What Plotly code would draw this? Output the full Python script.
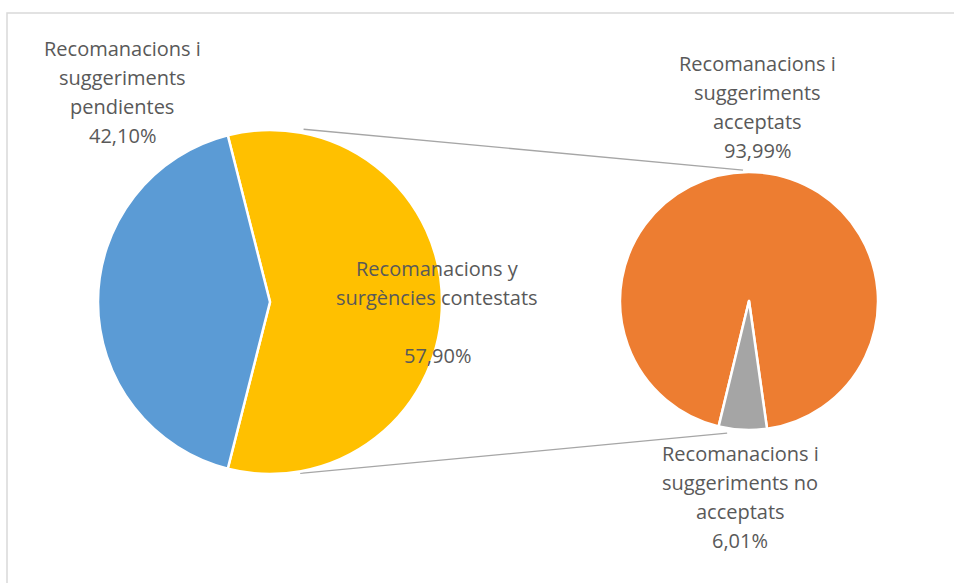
import math
import plotly.graph_objects as go

# ---- data -------------------------------------------------------------
primary_labels = ["Recomanacions i suggeriments pendientes",
                  "Recomanacions y surgències contestats"]
primary_values = [42.10, 57.90]

secondary_labels = ["Recomanacions i suggeriments acceptats",
                    "Recomanacions i suggeriments no acceptats"]
secondary_values = [93.99, 6.01]

primary_colors = ["#5B9BD5", "#FFC000"]
secondary_colors = ["#ED7D31", "#A5A5A5"]

# label lines (text part; the percentage is appended from the values)
label_pendientes = ["Recomanacions i", "suggeriments", "pendientes"]
label_contestats = ["Recomanacions y", "surgències contestats", ""]
label_acceptats = ["Recomanacions i", "suggeriments", "acceptats"]
label_no_acceptats = ["Recomanacions i", "suggeriments no", "acceptats"]

# ---- geometry (pixels) ------------------------------------------------
W, H = 954, 583
LEFT_C, LEFT_R = (270, 302), 172
RIGHT_C, RIGHT_R = (749, 301), 129


def px_x(x):
    return x / W


def px_y(y):
    return 1 - y / H


def domain(center, r):
    cx, cy = center
    return dict(x=[px_x(cx - r), px_x(cx + r)], y=[px_y(cy + r), px_y(cy - r)])


def pct(v):
    return f"{v:.2f}".replace(".", ",") + "%"


def point(center, r, ang):
    # angle in degrees, clockwise from 12 o'clock
    a = math.radians(ang)
    return center[0] + r * math.sin(a), center[1] - r * math.cos(a)


# blue slice centred at 9 o'clock; draw yellow first, clockwise
blue_span = primary_values[0] * 3.6
rot_left = blue_span / 2 - 90

# grey slice sits just left of 6 o'clock
rot_right = 193.6

fig = go.Figure()
fig.add_trace(go.Pie(
    labels=[primary_labels[1], primary_labels[0]],
    values=[primary_values[1], primary_values[0]],
    marker=dict(colors=[primary_colors[1], primary_colors[0]],
                line=dict(color="white", width=2.5)),
    sort=False, direction="clockwise", rotation=rot_left,
    textinfo="none", hoverinfo="label+percent",
    domain=domain(LEFT_C, LEFT_R), showlegend=False,
))
fig.add_trace(go.Pie(
    labels=secondary_labels,
    values=secondary_values,
    marker=dict(colors=secondary_colors, line=dict(color="white", width=2.5)),
    sort=False, direction="clockwise", rotation=rot_right,
    textinfo="none", hoverinfo="label+percent",
    domain=domain(RIGHT_C, RIGHT_R), showlegend=False,
))

shapes = []
# chart area border
shapes.append(dict(type="rect", xref="paper", yref="paper",
                   x0=px_x(7), x1=px_x(W + 10), y0=px_y(13), y1=px_y(H + 10),
                   line=dict(color="#D9D9D9", width=1.5), fillcolor="rgba(0,0,0,0)",
                   layer="below"))
# series lines joining the two pies
for a_left, r_left, a_right, r_right in [(11, LEFT_R + 4, -2.6, RIGHT_R + 2),
                                         (170, LEFT_R + 2, 189.4, RIGHT_R + 5)]:
    x0, y0 = point(LEFT_C, r_left, a_left)
    x1, y1 = point(RIGHT_C, r_right, a_right)
    shapes.append(dict(type="line", xref="paper", yref="paper",
                       x0=px_x(x0), y0=px_y(y0), x1=px_x(x1), y1=px_y(y1),
                       line=dict(color="#A6A6A6", width=1.3), layer="below"))

FONT = dict(family="Open Sans", size=20, color="#595959")
LINE = 29
MID_OFFSET = 7.8

annotations = []


def add_label(lines, cx, first_baseline):
    for i, t in enumerate(lines):
        if not t:
            continue
        y = first_baseline + i * LINE - MID_OFFSET
        annotations.append(dict(text=t, x=px_x(cx), y=px_y(y), xref="paper", yref="paper",
                                xanchor="center", yanchor="middle", showarrow=False,
                                font=FONT))


add_label(label_pendientes + [pct(primary_values[0])], 122, 56.5)
add_label(label_contestats + [pct(primary_values[1])], 437, 276)
add_label(label_acceptats + [pct(secondary_values[0])], 757, 71.5)
add_label(label_no_acceptats + [pct(secondary_values[1])], 740, 461.5)

fig.update_layout(
    width=W, height=H,
    margin=dict(l=0, r=0, t=0, b=0),
    paper_bgcolor="white", plot_bgcolor="white",
    shapes=shapes, annotations=annotations,
)

fig.write_html("out.html")
